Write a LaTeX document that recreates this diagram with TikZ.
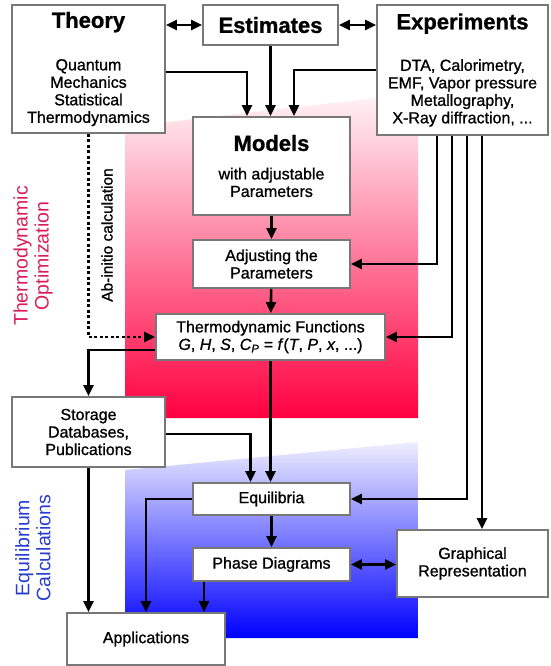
\documentclass[tikz,border=0pt]{standalone}
\usepackage{fontspec}
\setmainfont{Liberation Sans}
\newfontfamily\bodyfont[FakeBold=1]{Liberation Sans}
\usetikzlibrary{arrows.meta,calc}
\definecolor{optired}{RGB}{218,28,88}
\definecolor{eqblue}{RGB}{40,60,210}
\definecolor{boxgray}{RGB}{120,120,120}
\def\heading#1{{\fontsize{22}{24}\selectfont\bfseries #1}}

\begin{document}
\begin{tikzpicture}[x=1pt,y=-1pt,
  box/.style={draw=boxgray,line width=1.8pt,fill=white,align=center,inner sep=2pt,
    font=\bodyfont\fontsize{16}{17.5}\selectfont},
  flow/.style={-{Triangle[length=11pt,width=10pt]},line width=2.6pt},
  twoway/.style={{Triangle[length=11pt,width=10pt]}-{Triangle[length=11pt,width=10pt]},line width=2.6pt},
  side/.style={rotate=90,align=center,font=\fontsize{19.5}{21}\selectfont}]
  \useasboundingbox (0,0) rectangle (550,666);
  % shaded bands
  \shade[top color={rgb,255:red,255;green,245;blue,248},bottom color={rgb,255:red,255;green,0;blue,64}]
    (125,127) -- (418,93) -- (418,418) -- (125,418) -- cycle;
  \shade[top color={rgb,255:red,238;green,238;blue,255},bottom color={rgb,255:red,0;green,0;blue,255}]
    (125,470) -- (418,442) -- (418,638) -- (125,638) -- cycle;
  \node[side,text=optired] (optlabel) at (33,256) {Thermodynamic\\Optimization};
  \node[side,text=eqblue] (eqlabel) at (33,548) {Equilibrium\\Calculations};
  \node[rotate=90,font=\bodyfont\fontsize{15.5}{17}\selectfont] (abinitio) at (107,235) {Ab-initio calculation};
  % boxes
  \node[box,minimum width=153,minimum height=128] (theory) at (88.5,69)
    {\heading{Theory}\\[25pt]Quantum\\Mechanics\\Statistical\\Thermodynamics};
  \node[box,minimum width=135,minimum height=40] (estim) at (270.5,25) {\heading{Estimates}};
  \node[box,minimum width=171,minimum height=130] (exper) at (462.5,70)
    {\heading{Experiments}\\[24pt]DTA, Calorimetry,\\EMF, Vapor pressure\\Metallography,\\X-Ray diffraction, ...};
  \node[box,minimum width=157,minimum height=98] (models) at (271.5,166)
    {\heading{Models}\\[11pt]with adjustable\\Parameters};
  \node[box,minimum width=157,minimum height=48] (adjust) at (271.5,264) {Adjusting the\\Parameters};
  \node[box,minimum width=229,minimum height=46] (thfunc) at (270.5,337)
    {Thermodynamic Functions\\\textit{G}, \textit{H}, \textit{S}, \textit{C}\textsubscript{\textit{P}}
     = \textit{f}(\textit{T}, \textit{P}, \textit{x}, ...)};
  \node[box,minimum width=153,minimum height=70] (storage) at (88.5,432) {Storage\\Databases,\\Publications};
  \node[box,minimum width=157,minimum height=32] (equil) at (271.5,499) {Equilibria};
  \node[box,minimum width=157,minimum height=33] (phase) at (271.5,564.5) {Phase Diagrams};
  \node[box,minimum width=151,minimum height=67] (graph) at (472.5,563.5) {Graphical\\Representation};
  \node[box,minimum width=158,minimum height=52] (apps) at (146,639) {Applications};
  % connectors
  \draw[twoway] (estim.west) -- (estim.west -| theory.east);
  \draw[twoway] (estim.east) -- (estim.east -| exper.west);
  \draw[flow] ([yshift=-3pt]theory.east) -| ([xshift=-24.5pt]models.north);
  \draw[flow] (estim.south) -- (estim.south |- models.north);
  \draw[flow] (exper.west) -| ([xshift=22.5pt]models.north);
  \draw[flow] (models) -- (adjust);
  \draw[flow] (adjust) -- (thfunc);
  \foreach \dx/\target in {-25.5/adjust,-10.5/thfunc,4.5/equil}
    \draw[flow] ([xshift=\dx pt]exper.south) |- (\target.east);
  \draw[flow] ([xshift=19.5pt]exper.south) -- ([xshift=19.5pt]exper.south |- graph.north);
  \draw[flow,line width=2.2pt,dash pattern=on 3pt off 2.5pt] (theory.south) |- (thfunc.west);
  \draw[flow] ([yshift=-13pt]thfunc.west) -| (storage.north);
  \draw[flow] (thfunc.south) -- (thfunc.south |- equil.north);
  \draw[flow] ([yshift=-2pt]storage.east) -| ([xshift=-21pt]equil.north);
  \draw[flow] (equil) -- (phase);
  \draw[twoway] (phase.east) -- (phase.east -| graph.west);
  \draw[flow] (equil.west) -| (apps.north);
  \draw[flow] ([xshift=-67.5pt]phase.south) -- ([xshift=-67.5pt]phase.south |- apps.north);
  \draw[flow] (storage.south) -- (storage.south |- apps.north);
\end{tikzpicture}
\end{document}
